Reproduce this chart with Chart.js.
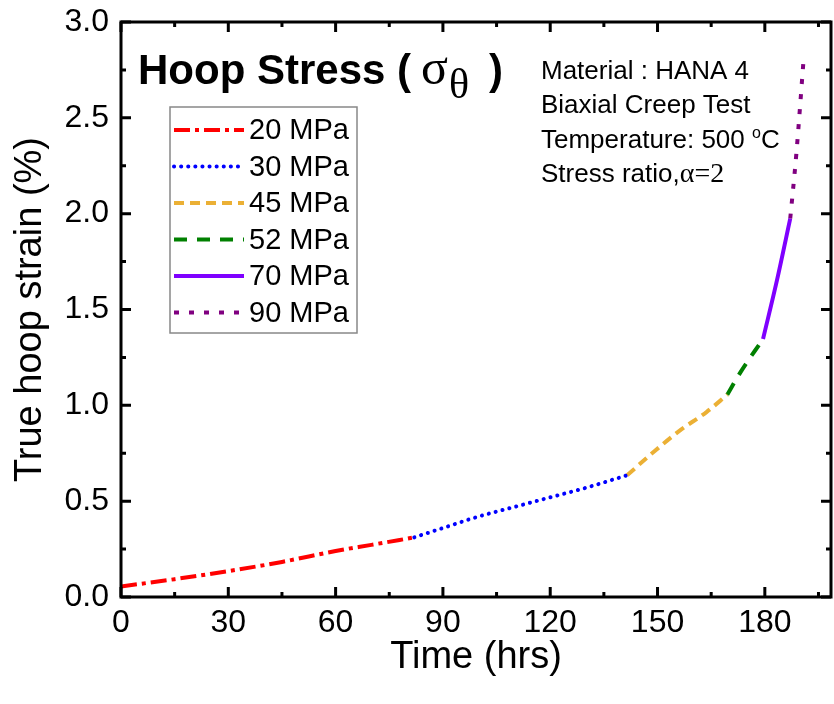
<!DOCTYPE html>
<html>
<head>
<meta charset="utf-8">
<script src="https://cdn.jsdelivr.net/npm/chart.js@4.4.1/dist/chart.umd.min.js"></script>
<style>
  html, body { margin: 0; padding: 0; background: #fff; }
</style>
</head>
<body>
<canvas id="chart" width="834" height="704"></canvas>
<script>
// Creep curve pieces, one per stress step (time in hrs, true hoop strain in %)
const stressLabels = ['20 MPa', '30 MPa', '45 MPa', '52 MPa', '70 MPa', '90 MPa'];

const time20 = [0, 15, 30, 45, 60, 70, 82];
const strain20 = [0.055, 0.093, 0.135, 0.183, 0.24, 0.272, 0.311];

const time30 = [82, 90, 100, 110, 120, 130, 141.5];
const strain30 = [0.311, 0.36, 0.42, 0.47, 0.52, 0.57, 0.635];

const time45 = [141.5, 148.8, 156.2, 163.7, 169.5];
const strain45 = [0.635, 0.755, 0.868, 0.965, 1.055];

const time52 = [169.5, 173, 179.5];
const strain52 = [1.055, 1.167, 1.346];

const time70 = [179.5, 183.4, 187.1];
const strain70 = [1.346, 1.653, 1.974];

const time90 = [187.1, 188.8, 190.9];
const strain90 = [1.974, 2.31, 2.82];

const xTickLabels = [0, 30, 60, 90, 120, 150, 180];
const yTickLabels = ['0.0', '0.5', '1.0', '1.5', '2.0', '2.5', '3.0'];

const infoLines = ['Material : HANA 4', 'Biaxial Creep Test'];

const SANS = "'Liberation Sans', Arial, sans-serif";
const SERIF = "'Liberation Serif', 'Times New Roman', serif";

function toPoints(xs, ys) {
    return xs.map((x, i) => ({ x: x, y: ys[i] }));
}

function series(label, xs, ys, color, dash, cap) {
    return {
        label: label,
        data: toPoints(xs, ys),
        borderColor: color,
        backgroundColor: color,
        borderWidth: 4,
        borderDash: dash,
        borderCapStyle: cap || 'butt',
        pointRadius: 0,
        cubicInterpolationMode: 'monotone',
        fill: false
    };
}

// Frame, inward ticks, legend box and text notes
const decorations = {
    id: 'decorations',
    afterDraw(chart) {
        const ctx = chart.ctx;
        const area = chart.chartArea;
        const xs = chart.scales.x;
        const ys = chart.scales.y;
        ctx.save();

        // inward ticks on all four sides
        ctx.strokeStyle = '#000';
        ctx.lineWidth = 3;
        ctx.lineCap = 'butt';
        for (let v = 0; v <= 195; v += 15) {
            const px = xs.getPixelForValue(v);
            const len = v % 30 === 0 ? 10 : 5;
            ctx.beginPath();
            ctx.moveTo(px, area.bottom); ctx.lineTo(px, area.bottom - len);
            ctx.moveTo(px, area.top); ctx.lineTo(px, area.top + len);
            ctx.stroke();
        }
        for (let v = 0; v <= 3.0001; v += 0.25) {
            const py = ys.getPixelForValue(v);
            const len = Math.round(v * 4) % 2 === 0 ? 10 : 5;
            ctx.beginPath();
            ctx.moveTo(area.left, py); ctx.lineTo(area.left + len, py);
            ctx.moveTo(area.right, py); ctx.lineTo(area.right - len, py);
            ctx.stroke();
        }
        ctx.strokeRect(area.left, area.top, area.right - area.left, area.bottom - area.top);

        // title
        ctx.fillStyle = '#000';
        ctx.textBaseline = 'alphabetic';
        ctx.textAlign = 'left';
        let tx = 138;
        ctx.font = 'bold 42px ' + SANS;
        ctx.fillText('Hoop Stress (', tx, 84);
        tx += ctx.measureText('Hoop Stress (').width + 10;
        ctx.font = '50px ' + SERIF;
        ctx.fillText('σ', tx, 84);
        tx += ctx.measureText('σ').width + 1;
        ctx.font = '42px ' + SERIF;
        ctx.fillText('θ', tx, 98);
        tx += ctx.measureText('θ').width + 20;
        ctx.font = 'bold 42px ' + SANS;
        ctx.fillText(')', tx, 84);

        // legend
        ctx.strokeStyle = '#888';
        ctx.lineWidth = 1.5;
        ctx.strokeRect(170, 107, 187, 226);
        ctx.font = '29px ' + SANS;
        ctx.textBaseline = 'middle';
        chart.data.datasets.forEach((ds, i) => {
            const y = 130 + i * 36.5;
            ctx.save();
            ctx.strokeStyle = ds.borderColor;
            ctx.lineWidth = 4;
            ctx.lineCap = ds.borderCapStyle;
            ctx.setLineDash(ds.borderDash);
            ctx.beginPath();
            ctx.moveTo(174, y);
            ctx.lineTo(244, y);
            ctx.stroke();
            ctx.restore();
            ctx.fillStyle = '#000';
            ctx.fillText(ds.label, 249, y + 1);
        });

        // test conditions
        ctx.textBaseline = 'alphabetic';
        ctx.font = '26px ' + SANS;
        ctx.fillText(infoLines[0], 541, 79);
        ctx.fillText(infoLines[1], 541, 113);
        let ix = 541;
        ctx.fillText('Temperature: 500 ', ix, 148);
        ix += ctx.measureText('Temperature: 500 ').width;
        ctx.font = '16px ' + SANS;
        ctx.fillText('o', ix, 138);
        ix += ctx.measureText('o').width;
        ctx.font = '26px ' + SANS;
        ctx.fillText('C', ix, 148);
        ix = 541;
        ctx.fillText('Stress ratio,', ix, 182);
        ix += ctx.measureText('Stress ratio,').width;
        ctx.font = '28px ' + SERIF;
        ctx.fillText('α=2', ix, 182);

        ctx.restore();
    }
};

const tickFont = { family: SANS, size: 32 };

new Chart(document.getElementById('chart'), {
    type: 'line',
    data: {
        datasets: [
            series(stressLabels[0], time20, strain20, '#ff0000', [16, 5, 4, 5]),
            series(stressLabels[1], time30, strain30, '#0000ff', [0.1, 7], 'round'),
            series(stressLabels[2], time45, strain45, '#ebb035', [10, 6]),
            series(stressLabels[3], time52, strain52, '#008000', [13, 10]),
            series(stressLabels[4], time70, strain70, '#7f00ff', []),
            series(stressLabels[5], time90, strain90, '#800080', [5, 10])
        ]
    },
    options: {
        responsive: false,
        animation: false,
        layout: { padding: { left: 0, top: 22, right: 3, bottom: 0 } },
        plugins: {
            legend: { display: false },
            tooltip: { enabled: false }
        },
        scales: {
            x: {
                type: 'linear',
                min: 0,
                max: 198.5,
                afterFit: function(scale) {
                    scale.height = 107;
                    scale.paddingLeft = 0;
                    scale.paddingRight = 0;
                },
                grid: { display: false, drawTicks: false },
                border: { display: false },
                ticks: {
                    stepSize: 30,
                    includeBounds: false,
                    padding: 7,
                    color: '#000',
                    font: tickFont,
                    maxRotation: 0,
                    callback: function(v) { return xTickLabels.includes(v) ? String(v) : ''; }
                },
                title: {
                    display: true,
                    text: 'Time (hrs)',
                    color: '#000',
                    font: { family: SANS, size: 38 },
                    padding: { top: 0, bottom: 24 }
                }
            },
            y: {
                type: 'linear',
                min: 0,
                max: 3,
                afterFit: function(scale) {
                    scale.width = 121;
                    scale.paddingTop = 0;
                    scale.paddingBottom = 0;
                },
                grid: { display: false, drawTicks: false },
                border: { display: false },
                ticks: {
                    stepSize: 0.5,
                    padding: 12,
                    color: '#000',
                    font: tickFont,
                    callback: function(v) { return yTickLabels[Math.round(v * 2)]; }
                },
                title: {
                    display: true,
                    text: 'True hoop strain (%)',
                    color: '#000',
                    font: { family: SANS, size: 38 },
                    padding: { top: 8, bottom: 0 }
                }
            }
        }
    },
    plugins: [decorations]
});
</script>
</body>
</html>
